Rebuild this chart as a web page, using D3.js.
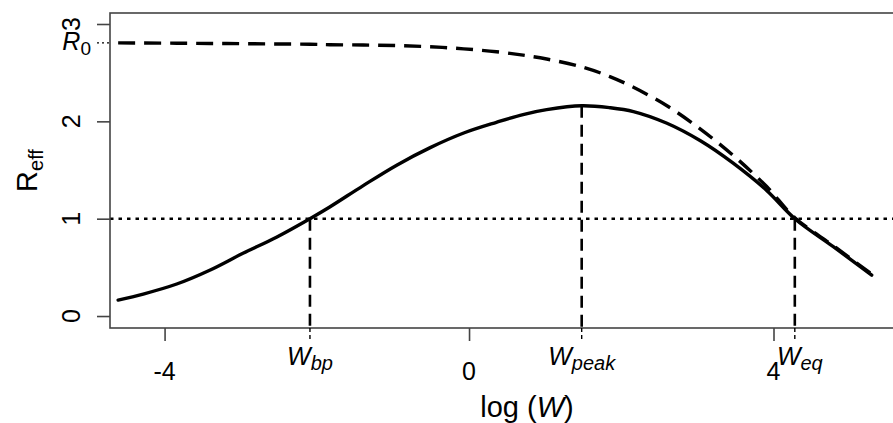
<!DOCTYPE html>
<html>
<head>
<meta charset="utf-8">
<script src="https://cdn.jsdelivr.net/npm/d3@7"></script>
<style>
  html, body { margin: 0; padding: 0; background: #fff; }
  svg { display: block; }
  text { font-family: "Liberation Sans", Arial, sans-serif; fill: #000; }
</style>
</head>
<body>
<svg id="chart" width="893" height="423"></svg>
<script>
// ---- data ----
const logW = [-4.61, -4.28, -3.84, -3.40, -2.97, -2.53, -2.09, -1.83, -1.39, -0.95, -0.51, -0.07, 0.36, 0.71, 1.02, 1.48, 1.85, 2.16, 2.60, 3.04, 3.47, 3.91, 4.28, 4.79, 5.29];
const rEff = [0.164, 0.226, 0.329, 0.473, 0.644, 0.81, 1.0, 1.12, 1.34, 1.55, 1.73, 1.88, 1.99, 2.07, 2.12, 2.16, 2.14, 2.10, 1.98, 1.80, 1.57, 1.29, 1.00, 0.71, 0.42];
const rZeroCurve = [2.806, 2.805, 2.803, 2.800, 2.798, 2.795, 2.792, 2.787, 2.784, 2.778, 2.766, 2.745, 2.715, 2.68, 2.64, 2.56, 2.46, 2.35, 2.16, 1.92, 1.65, 1.33, 1.01, 0.72, 0.43];
const R0 = 2.806;
const threshold = 1;
const xTicks = [-4, 0, 4];
const yTicks = [0, 1, 2, 3];
const markerX = [-2.09, 1.48, 4.28];
const markerY = [1, 2.16, 1];
const markerSub = ["bp", "peak", "eq"];

// ---- layout ----
const svg = d3.select("#chart");
const box = { left: 110, right: 944, top: 13, bottom: 328 };
const x = d3.scaleLinear().domain([-4.717, 6.24]).range([box.left, box.right]);
const y = d3.scaleLinear().domain([-0.123, 3.113]).range([box.bottom, box.top]);
const axisColor = "#444";
const tickLen = 13;

svg.append("clipPath").attr("id", "clip")
  .append("rect").attr("x", box.left).attr("y", box.top)
  .attr("width", box.right - box.left).attr("height", box.bottom - box.top);

const plot = svg.append("g").attr("clip-path", "url(#clip)");

// threshold dotted line
plot.append("line")
  .attr("x1", box.left).attr("x2", box.right)
  .attr("y1", y(threshold)).attr("y2", y(threshold))
  .attr("stroke", "#000").attr("stroke-width", 2.6)
  .attr("stroke-dasharray", "3.5,5");

// vertical dashed marker lines
markerX.forEach((mx, i) => {
  plot.append("line")
    .attr("x1", x(mx)).attr("x2", x(mx))
    .attr("y1", y(markerY[i])).attr("y2", box.bottom)
    .attr("stroke", "#000").attr("stroke-width", 2.6)
    .attr("stroke-dasharray", "12,7");
});

const pts = (ys) => logW.map((v, i) => [v, ys[i]]);
const line = d3.line().x(d => x(d[0])).y(d => y(d[1])).curve(d3.curveCatmullRom.alpha(0.5));

// dashed R0 curve
plot.append("path").datum(pts(rZeroCurve))
  .attr("d", line).attr("fill", "none")
  .attr("stroke", "#000").attr("stroke-width", 3.4)
  .attr("stroke-dasharray", "17,9");

// solid Reff curve
plot.append("path").datum(pts(rEff))
  .attr("d", line).attr("fill", "none")
  .attr("stroke", "#000").attr("stroke-width", 3.4)
  .attr("stroke-linejoin", "round").attr("stroke-linecap", "round");

// box
svg.append("rect")
  .attr("x", box.left).attr("y", box.top)
  .attr("width", box.right - box.left).attr("height", box.bottom - box.top)
  .attr("fill", "none").attr("stroke", axisColor).attr("stroke-width", 1.6);

// x axis ticks
const xAxis = svg.append("g").attr("transform", `translate(0,${box.bottom})`)
  .call(d3.axisBottom(x).tickValues(xTicks).tickSize(tickLen).tickSizeOuter(0).tickFormat(""));
xAxis.select(".domain").remove();
xAxis.selectAll(".tick line").attr("stroke", axisColor).attr("stroke-width", 1.6);
xAxis.selectAll(".tick text").remove();
xTicks.forEach(v => {
  svg.append("text")
    .attr("x", x(v)).attr("y", 380)
    .attr("text-anchor", "middle")
    .style("font-size", "25px")
    .text(v < 0 ? "-" + Math.abs(v) : String(v));
});

// y axis ticks
const yAxis = svg.append("g").attr("transform", `translate(${box.left},0)`)
  .call(d3.axisLeft(y).tickValues(yTicks).tickSize(tickLen).tickSizeOuter(0).tickFormat(""));
yAxis.select(".domain").remove();
yAxis.selectAll(".tick line").attr("stroke", axisColor).attr("stroke-width", 1.6);
yAxis.selectAll(".tick text").remove();
yTicks.forEach(v => {
  svg.append("text")
    .attr("transform", `translate(80,${y(v)}) rotate(-90)`)
    .attr("text-anchor", "middle")
    .style("font-size", "25px")
    .text(String(v));
});

// R0 tick (dotted) and label
svg.append("line")
  .attr("x1", box.left - tickLen).attr("x2", box.left)
  .attr("y1", y(R0)).attr("y2", y(R0))
  .attr("stroke", "#000").attr("stroke-width", 1.4)
  .attr("stroke-dasharray", "2,3");
const r0Label = svg.append("text")
  .attr("x", 91).attr("y", y(R0) + 7)
  .attr("text-anchor", "end")
  .style("font-size", "25px");
r0Label.append("tspan").style("font-style", "italic").text("R");
r0Label.append("tspan").attr("dy", 5).style("font-size", "19px").text("0");

// W marker ticks (thin dashed) and labels
const labelNudge = [0, 0, 5];
markerX.forEach((mx, i) => {
  svg.append("line")
    .attr("x1", x(mx)).attr("x2", x(mx))
    .attr("y1", box.bottom).attr("y2", box.bottom + tickLen)
    .attr("stroke", "#000").attr("stroke-width", 1.4)
    .attr("stroke-dasharray", "4,3");
  const t = svg.append("text")
    .attr("x", x(mx) + labelNudge[i]).attr("y", 365)
    .attr("text-anchor", "middle")
    .style("font-size", "25px").style("font-style", "italic");
  t.append("tspan").text("W");
  t.append("tspan").attr("dy", 5).style("font-size", "20px").text(markerSub[i]);
});

// x axis title
const xt = svg.append("text")
  .attr("x", (box.left + box.right) / 2).attr("y", 417)
  .attr("text-anchor", "middle")
  .style("font-size", "29px");
xt.append("tspan").text("log (");
xt.append("tspan").style("font-style", "italic").text("W");
xt.append("tspan").text(")");

// y axis title
const yt = svg.append("text")
  .attr("transform", `translate(37,${(box.top + box.bottom) / 2}) rotate(-90)`)
  .attr("text-anchor", "middle")
  .style("font-size", "29px");
yt.append("tspan").text("R");
yt.append("tspan").attr("dy", 6).style("font-size", "20px").text("eff");
</script>
</body>
</html>
